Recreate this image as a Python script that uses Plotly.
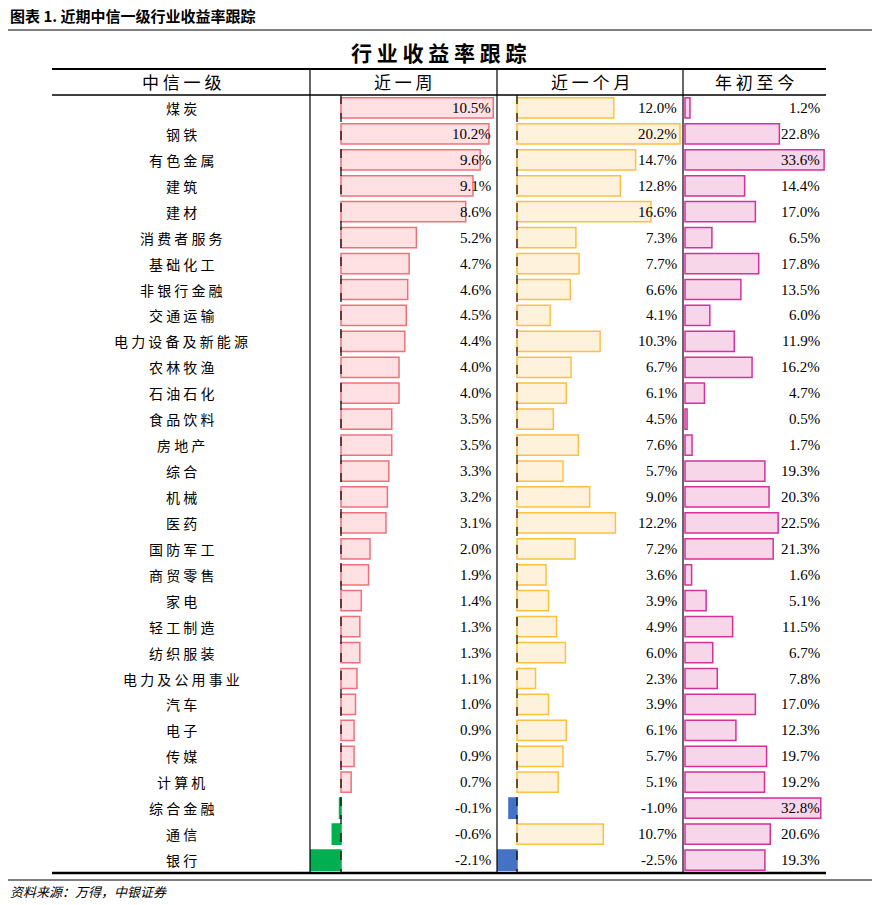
import plotly.graph_objects as go

categories = ["煤炭","钢铁","有色金属","建筑","建材","消费者服务","基础化工","非银行金融","交通运输","电力设备及新能源",
 "农林牧渔","石油石化","食品饮料","房地产","综合","机械","医药","国防军工","商贸零售","家电",
 "轻工制造","纺织服装","电力及公用事业","汽车","电子","传媒","计算机","综合金融","通信","银行"]
week = [10.5,10.2,9.6,9.1,8.6,5.2,4.7,4.6,4.5,4.4,4.0,4.0,3.5,3.5,3.3,3.2,3.1,2.0,1.9,1.4,1.3,1.3,1.1,1.0,0.9,0.9,0.7,-0.1,-0.6,-2.1]
month = [12.0,20.2,14.7,12.8,16.6,7.3,7.7,6.6,4.1,10.3,6.7,6.1,4.5,7.6,5.7,9.0,12.2,7.2,3.6,3.9,4.9,6.0,2.3,3.9,6.1,5.7,5.1,-1.0,10.7,-2.5]
ytd = [1.2,22.8,33.6,14.4,17.0,6.5,17.8,13.5,6.0,11.9,16.2,4.7,0.5,1.7,19.3,20.3,22.5,21.3,1.6,5.1,11.5,6.7,7.8,17.0,12.3,19.7,19.2,32.8,20.6,19.3]

W, H = 880, 905
OFF = 8
px = lambda x: (x - OFF) / W
py = lambda y: 1 - (y - OFF) / H
top_rows, bot_rows = 95, 873

fig = go.Figure()
n = len(categories)
idx = list(range(n))

def spaced(s):
    return " ".join(s)

cols = [
    dict(vals=week, ax="x", zero=341, right=497, pos=("#FFE1E4", "#F0707A"), neg=("#00B050", "#00B050")),
    dict(vals=month, ax="x2", zero=517, right=683, pos=("#FFF2DC", "#FFC040"), neg=("#4472C4", "#4472C4")),
    dict(vals=ytd, ax="x3", zero=685, right=826, pos=("#F7D6EA", "#D6309A"), neg=("#D6309A", "#D6309A")),
]
layout_axes = {}
scales = [14.5, 8.07, 4.14]
for k, (c, s) in enumerate(zip(cols, scales)):
    fills = [c["pos"][0] if v >= 0 else c["neg"][0] for v in c["vals"]]
    lines = [c["pos"][1] if v >= 0 else c["neg"][1] for v in c["vals"]]
    fig.add_trace(go.Bar(x=c["vals"], y=idx, orientation="h", xaxis=c["ax"], yaxis="y",
                         marker=dict(color=fills, line=dict(color=lines, width=1.5)),
                         width=0.78, hoverinfo="skip"))
    left = [310, 497, 683][k]
    lo = -(c["zero"] - left) / s
    hi = (c["right"] - c["zero"]) / s
    name = "xaxis" if k == 0 else f"xaxis{k+1}"
    layout_axes[name] = dict(domain=[px(left), px(c["right"])], range=[lo, hi], visible=False, anchor="y", fixedrange=True)
    for i, v in enumerate(c["vals"]):
        fig.add_annotation(x=px(c["right"] - 4), xref="paper", y=i, yref="y", text=f"{v:.1f}%",
                           showarrow=False, xanchor="right", yanchor="middle",
                           font=dict(family="Liberation Serif", size=15, color="black"))
    if k < 2:
        fig.add_shape(type="line", xref="paper", yref="paper", x0=px(c["zero"]), x1=px(c["zero"]),
                      y0=py(top_rows), y1=py(bot_rows), line=dict(color="black", width=1.2, dash="dash"))

for i, cat in enumerate(categories):
    fig.add_annotation(x=px(181), xref="paper", y=i, yref="y", text=spaced(cat), showarrow=False,
                       xanchor="center", yanchor="middle",
                       font=dict(family="Noto Sans CJK SC", size=14, color="black"))

heads = [("中信一级", 181), ("近一周", 403), ("近一个月", 590), ("年初至今", 754)]
for t, x in heads:
    fig.add_annotation(x=px(x), xref="paper", y=py(82), yref="paper", text=spaced(t), showarrow=False,
                       xanchor="center", yanchor="middle",
                       font=dict(family="Noto Sans CJK SC", size=17, color="black"))

fig.add_annotation(x=px(439), xref="paper", y=py(52), yref="paper", text="<b>" + spaced("行业收益率跟踪") + "</b>",
                   showarrow=False, xanchor="center", yanchor="middle",
                   font=dict(family="Noto Sans CJK SC", size=21, color="black"))
fig.add_annotation(x=px(8), xref="paper", y=py(15), yref="paper", text="<b>图表 1. 近期中信一级行业收益率跟踪</b>",
                   showarrow=False, xanchor="left", yanchor="middle", font=dict(family="Noto Sans CJK SC", size=15, color="black"))
fig.add_annotation(x=px(8), xref="paper", y=py(891), yref="paper", text="<i>资料来源：万得，中银证券</i>",
                   showarrow=False, xanchor="left", yanchor="middle", font=dict(family="Noto Sans CJK SC", size=13, color="black"))

def hline(y, x0, x1, w):
    fig.add_shape(type="line", xref="paper", yref="paper", x0=px(x0), x1=px(x1), y0=py(y), y1=py(y),
                  line=dict(color="black", width=w))
hline(30, 5, 875, 1)
hline(69, 52, 826, 2)
hline(95, 52, 826, 1.5)
hline(873, 52, 826, 2.5)
hline(880, 5, 875, 1)
for x in [310, 497, 683]:
    fig.add_shape(type="line", xref="paper", yref="paper", x0=px(x), x1=px(x), y0=py(69), y1=py(873),
                  line=dict(color="black", width=1.2))

fig.update_layout(width=W, height=H, margin=dict(l=0, r=0, t=0, b=0), showlegend=False,
                  plot_bgcolor="white", paper_bgcolor="white", barmode="overlay",
                  yaxis=dict(domain=[py(bot_rows), py(top_rows)], range=[n - 0.5, -0.5], visible=False, fixedrange=True),
                  **layout_axes)
fig.write_html("out.html")
